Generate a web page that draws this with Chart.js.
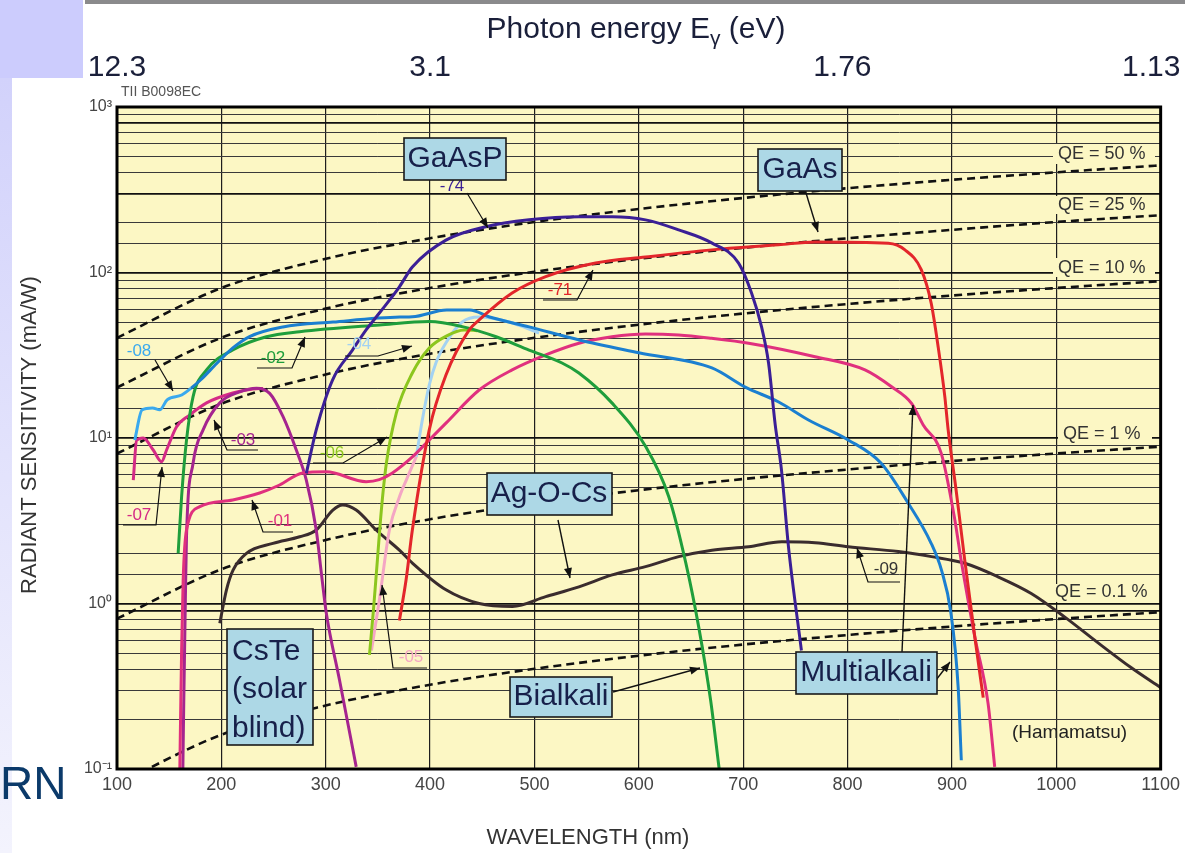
<!DOCTYPE html>
<html><head><meta charset="utf-8">
<script src="https://cdn.jsdelivr.net/npm/chart.js@4.4.0/dist/chart.umd.min.js"></script>
<style>html,body{margin:0;padding:0;background:#fff;overflow:hidden}canvas{display:block}</style>
</head><body>
<canvas id="c" width="1185" height="853" style="width:1185px;height:853px"></canvas>
<script>
const FONT = '"Liberation Sans", Arial, Helvetica, sans-serif';

// ---------- data (wavelength nm, radiant sensitivity mA/W) ----------
const wl08 = [117,124,134,141,148,162,171,180,196,211,227,259,307,371,383,416,438,457,495,543,600,670,702,734,763,801,832,858,880,890,899,906,909];
const s08  = [9.7,14.8,15.2,14.8,17.0,18.2,20.0,22.4,28.4,35,41,46.9,50.2,53.8,54,59.3,59.3,53.8,46.9,39.1,32.7,26.5,20.3,16.5,12.8,9.7,7.06,4.05,2.32,1.59,0.88,0.31,0.113];

const wl02 = [158.6,161.9,166.6,172.9,185.8,210.9,243.1,275,351.4,399.2,430.8,463.3,494.8,526.4,542.6,574.2,606.7,628.7,645,657.4,668.8,677];
const s02  = [2.01,4.42,9.7,17.8,25.8,34,40.9,43.9,48.2,50.5,47.1,40.9,34,28.4,24.7,16.3,8.85,4.42,1.76,0.72,0.26,0.1];

const wl74 = [281.4,290.9,306.5,325.6,338.7,351.4,370.6,383,415.2,453.4,494.8,542.6,574.2,606.4,638.2,669.8,695.6,708,717.6,724.3,730.7,736.7,743.4,755.8];
const s74  = [6.12,11.2,22.4,34,45,56.9,82,108,157,189,208,217,217,208,181,151,114,75.2,46.9,28.4,12,6.4,2.2,0.52];

const wl71 = [370.6,377,383,399.2,415.2,437.5,447,478.6,510.8,558.6,606.4,669.8,733.8,768.9,839,855,870.6,880.1,886.8,893.2,896.4,904,912.3,921.9,930];
const s71  = [0.79,1.39,2.78,11.2,24,45,51.7,75.2,94.4,114,124,137,147,153,150,137,104,65.4,35.6,17.8,11.2,4.85,1.83,0.63,0.27];

const wl01 = [160.2,161.9,163.4,166.6,179.3,210.9,236.7,255.8,277.8,300.5,338.7,351.4,363.9,383.3,399.2,415.2,447,478.6,510.8,542.6,574.2,606.4,638.2,669.8,705.2,768.9,816.7,842.2,861.3,872.5,889.7,902.8,908.8,921.9,934.6,941];
const s01  = [0.1,0.52,1.39,2.78,3.85,4.22,4.65,5.2,6.15,6.25,5.44,5.6,6.15,7.71,9.73,12.3,19.5,25.8,31.8,37.4,40.9,42.5,41.9,40,37.4,31,25.8,20.4,16.2,12,8.1,3.2,1.83,0.63,0.25,0.103];

const wl03 = [163.1,164,165.5,166.6,172.9,182.5,198.5,217.6,233.6,246.3,259,271.8,281.4,290.9,296,300.5,313.2,329.2];
const s03  = [0.1,0.26,1.05,2.53,7.03,11.2,16.3,19,20,18.6,13.5,8.46,5.57,2.78,1.49,0.88,0.345,0.103];

const wl07 = [115.6,118.8,125.1,134.7,142.7,147.5,157.1,169.8,185.8,210.9,230,240];
const s07  = [5.57,9.7,10,8.46,7.19,8.46,11.7,13.8,16.3,18.7,19.8,19.9];

const wl06 = [341.9,345.7,349.5,353.3,358.1,367.7,383,399.2,415.5,432.7,445];
const s06  = [0.49,0.91,1.83,3.67,7.03,14.2,24.7,35,41.3,45,44.5];

const wl04 = [386.8,392.5,399.2,405.9,415.5,430.8,447,475.7,504.4];
const s04  = [7.71,12.8,20.9,28.8,37.9,50.2,53.8,50.2,43.1];

const wl05 = [343.8,351.4,361,370.6,377.2,386.8];
const s05  = [0.52,1.05,2.78,4.4,5.57,7.71];

const wl09 = [198.5,204.9,211.2,224,249.4,275,290.9,306.8,316.3,329.2,348.3,370.6,383.3,415.2,447,478.9,510.8,542.6,574.5,606.4,638.2,670.1,705.2,737,768.9,800.8,848.6,880.4,912.3,944.2,976,1007.9,1039.8,1071.6,1100];
const s09  = [0.76,1.21,1.59,2.01,2.31,2.53,2.78,3.67,3.94,3.67,2.78,2.1,1.75,1.21,1.0,0.96,1.1,1.26,1.49,1.67,1.92,2.1,2.2,2.36,2.33,2.2,2.06,1.92,1.75,1.45,1.15,0.83,0.58,0.41,0.31];

// quantum-efficiency reference lines
const qeWl  = [100,200,300,400,500,600,700,800,900,1000,1100];
const qe50  = [40.3,80.6,121,161,202,242,282,323,363,403,444];
const qe25  = [20.2,40.3,60.5,80.6,101,121,141,161,181,202,222];
const qe10  = [8.06,16.1,24.2,32.3,40.3,48.4,56.5,64.5,72.6,80.6,88.7];
const qe1   = [0.81,1.61,2.42,3.23,4.03,4.84,5.65,6.45,7.26,8.06,8.87];
const qe01  = [0.081,0.161,0.242,0.323,0.403,0.484,0.565,0.645,0.726,0.806,0.887];

// axis labels
const energyTickNm  = [100, 400, 795, 1091];
const energyLabels  = ['12.3', '3.1', '1.76', '1.13'];
const qeLabels      = ['QE = 50 %', 'QE = 25 %', 'QE = 10 %', 'QE = 1 %', 'QE = 0.1 %'];

// ---------- styling / layout ----------
const C = {
  lightBlue:'#3aa9ee', blue:'#1b7fd0', green:'#1f9e3c', purple:'#3b1f96', red:'#e3262b',
  pink:'#e0307e', magenta:'#a5248f', pink07:'#d42a86', yg:'#8cc61e', pale:'#a3d2f2', palePink:'#f4a6c4', dark:'#3a2c2e'
};
const series = (wl, s) => wl.map((x, i) => ({x, y: s[i]}));
const curve = (label, wl, s, color, extra) => Object.assign({
  label, data: series(wl, s), borderColor: color, borderWidth: 3, pointRadius: 0,
  showLine: true, fill: false, cubicInterpolationMode: 'monotone'
}, extra || {});
const qeLine = (label, s) => ({
  label, data: series(qeWl, s), borderColor: '#111', borderWidth: 2.6, borderDash: [8, 5],
  pointRadius: 0, showLine: true, fill: false, cubicInterpolationMode: 'monotone'
});

const qeLabelPos = [[1058,154],[1058,205],[1058,268],[1063,434],[1055,592]];
const qeMasks = [[1053,144,102,20],[1053,196,102,18],[1053,258,102,19],[1058,426,94,17],[1051,584,104,18]];

const smallLabels = [
  {t:'-08', x:139, y:351, c:C.lightBlue, lead:[[155,360],[173,391]]},
  {t:'-02', x:273, y:358, c:C.green,     lead:[[257,368],[292,368],[305,337]]},
  {t:'-04', x:359, y:344, c:C.pale,      lead:[[345,356],[378,356],[412,346]]},
  {t:'-03', x:243, y:440, c:C.magenta,   lead:[[258,450],[227,450],[214,420]]},
  {t:'-06', x:332, y:453, c:C.yg,        lead:[[313,463],[343,463],[387,437]]},
  {t:'-07', x:139, y:515, c:C.pink07,    lead:[[123,525],[156,525],[162,467]]},
  {t:'-01', x:280, y:521, c:C.pink,      lead:[[293,532],[263,532],[252,500]]},
  {t:'-05', x:411, y:657, c:C.palePink,  lead:[[427,668],[393,668],[382,585]]},
  {t:'-74', x:452, y:186, c:C.purple,    lead:[[467,193],[488,228]]},
  {t:'-71', x:560, y:290, c:C.red,       lead:[[543,300],[577,300],[593,270]]},
  {t:'-09', x:886, y:569, c:'#333',      lead:[[900,582],[868,582],[857,548]]}
];
const boxArrows = [
  [[806,193],[818,232]], [[558,520],[570,578]], [[613,692],[700,668]],
  [[902,652],[913,405]], [[936,680],[950,662]]
];
const boxes = [
  {r:[404,138,102,42], lines:['GaAsP'], cx:455, cy:[159]},
  {r:[758,149,84,42],  lines:['GaAs'], cx:800, cy:[170]},
  {r:[487,473,125,42], lines:['Ag-O-Cs'], cx:549, cy:[494]},
  {r:[227,629,86,116], lines:['CsTe','(solar','blind)'], lx:232, cy:[652,690,729]},
  {r:[510,677,102,40], lines:['Bialkali'], cx:561, cy:[697]},
  {r:[796,652,141,42], lines:['Multialkali'], cx:866, cy:[673]}
];

function poly(ctx, pts, head) {
  ctx.beginPath();
  ctx.moveTo(pts[0][0], pts[0][1]);
  for (let i = 1; i < pts.length; i++) ctx.lineTo(pts[i][0], pts[i][1]);
  ctx.stroke();
  if (head) {
    const [x1, y1] = pts[pts.length - 2], [x2, y2] = pts[pts.length - 1];
    const a = Math.atan2(y2 - y1, x2 - x1), L = 10, W = 4;
    ctx.beginPath();
    ctx.moveTo(x2, y2);
    ctx.lineTo(x2 - L * Math.cos(a) + W * Math.sin(a), y2 - L * Math.sin(a) - W * Math.cos(a));
    ctx.lineTo(x2 - L * Math.cos(a) - W * Math.sin(a), y2 - L * Math.sin(a) + W * Math.cos(a));
    ctx.closePath();
    ctx.fill();
  }
}

const decorPlugin = {
  id: 'decor',
  beforeDraw(chart) {
    const ctx = chart.ctx, a = chart.chartArea;
    ctx.save();
    ctx.fillStyle = '#fff'; ctx.fillRect(0, 0, chart.width, chart.height);
    ctx.fillStyle = '#ccccfd'; ctx.fillRect(0, 0, 83, 78);
    const g = ctx.createLinearGradient(0, 78, 0, 853);
    g.addColorStop(0, '#d2d2fb'); g.addColorStop(1, '#f3f3fd');
    ctx.fillStyle = g; ctx.fillRect(0, 78, 12, 775);
    ctx.fillStyle = '#8a8a8c'; ctx.fillRect(85, 0, 1100, 4);
    ctx.fillStyle = '#fcf7c4'; ctx.fillRect(a.left, a.top, a.right - a.left, a.bottom - a.top);
    ctx.restore();
  },
  beforeDatasetsDraw(chart) {
    const ctx = chart.ctx;
    ctx.save();
    ctx.fillStyle = '#fcf7c4';
    qeMasks.forEach(m => ctx.fillRect(m[0], m[1], m[2], m[3]));
    ctx.restore();
  },
  afterDatasetsDraw(chart) {
    const ctx = chart.ctx, a = chart.chartArea;
    ctx.save();
    ctx.strokeStyle = '#000'; ctx.lineWidth = 3;
    ctx.strokeRect(a.left, a.top, a.right - a.left, a.bottom - a.top);

    ctx.fillStyle = '#333'; ctx.font = '18px ' + FONT; ctx.textBaseline = 'middle'; ctx.textAlign = 'left';
    qeLabels.forEach((t, i) => ctx.fillText(t, qeLabelPos[i][0], qeLabelPos[i][1]));

    ctx.strokeStyle = '#111'; ctx.fillStyle = '#111'; ctx.lineWidth = 1.2;
    smallLabels.forEach(l => poly(ctx, l.lead, true));
    ctx.font = '17px ' + FONT; ctx.textAlign = 'center'; ctx.textBaseline = 'middle';
    smallLabels.forEach(l => { ctx.fillStyle = l.c; ctx.fillText(l.t, l.x, l.y); });

    ctx.strokeStyle = '#111'; ctx.fillStyle = '#111'; ctx.lineWidth = 1.4;
    boxArrows.forEach(p => poly(ctx, p, true));

    boxes.forEach(b => {
      ctx.fillStyle = '#add8e6'; ctx.fillRect(b.r[0], b.r[1], b.r[2], b.r[3]);
      ctx.strokeStyle = '#1a1a1a'; ctx.lineWidth = 1.6; ctx.strokeRect(b.r[0], b.r[1], b.r[2], b.r[3]);
      ctx.fillStyle = '#17204a'; ctx.font = '30px ' + FONT; ctx.textBaseline = 'middle';
      b.lines.forEach((t, i) => {
        if (b.lx !== undefined) { ctx.textAlign = 'left'; ctx.fillText(t, b.lx, b.cy[i]); }
        else { ctx.textAlign = 'center'; ctx.fillText(t, b.cx, b.cy[i]); }
      });
    });

    ctx.fillStyle = '#222'; ctx.font = '19px ' + FONT; ctx.textAlign = 'left'; ctx.textBaseline = 'middle';
    ctx.fillText('(Hamamatsu)', 1012, 733);
    ctx.restore();
  },
  afterDraw(chart) {
    const ctx = chart.ctx, xs = chart.scales.x;
    ctx.save();
    ctx.fillStyle = '#1a1f3a'; ctx.font = '30px ' + FONT; ctx.textAlign = 'center'; ctx.textBaseline = 'alphabetic';
    energyTickNm.forEach((v, i) => ctx.fillText(energyLabels[i], xs.getPixelForValue(v), 76));
    const f1 = '30px ' + FONT, f2 = '21px ' + FONT;
    const p1 = 'Photon energy E', p2 = '\u03b3', p3 = ' (eV)';
    ctx.font = f1; const w1 = ctx.measureText(p1).width, w3 = ctx.measureText(p3).width;
    ctx.font = f2; const w2 = ctx.measureText(p2).width;
    let x0 = 636 - (w1 + w2 + w3) / 2;
    ctx.textAlign = 'left';
    ctx.font = f1; ctx.fillText(p1, x0, 38);
    ctx.font = f2; ctx.fillText(p2, x0 + w1, 45);
    ctx.font = f1; ctx.fillText(p3, x0 + w1 + w2, 38);
    ctx.fillStyle = '#555'; ctx.font = '14px ' + FONT; ctx.fillText('TII B0098EC', 121, 96);
    ctx.fillStyle = '#333'; ctx.font = '22px ' + FONT; ctx.textAlign = 'center'; ctx.textBaseline = 'middle';
    ctx.fillText('WAVELENGTH (nm)', 588, 838);
    ctx.save(); ctx.translate(30, 435); ctx.rotate(-Math.PI / 2);
    ctx.fillText('RADIANT SENSITIVITY (mA/W)', 0, 0); ctx.restore();
    ctx.fillStyle = '#0b3a6a'; ctx.font = '46px ' + FONT; ctx.textAlign = 'left'; ctx.textBaseline = 'alphabetic';
    ctx.fillText('RN', 0, 799);
    ctx.restore();
  }
};

const SUP = {'-1':'\u207b\u00b9', '0':'\u2070', '1':'\u00b9', '2':'\u00b2', '3':'\u00b3'};
const isNear = (v, t) => Math.abs(v - t) < 1e-6 * Math.max(1, t);
const heavy = v => { const l = Math.log10(v); return Math.abs(l - Math.round(l)) < 1e-6 || isNear(v,300) || isNear(v,800) || isNear(v,0.9); };

new Chart(document.getElementById('c'), {
  type: 'scatter',
  data: {
    datasets: [
      curve('-74', wl74, s74, C.purple),
      curve('-71', wl71, s71, C.red),
      curve('-08', wl08, s08, C.blue, {segment: {borderColor: ctx => ctx.p1DataIndex <= 6 ? C.lightBlue : C.blue}}),
      curve('-02', wl02, s02, C.green),
      curve('-01', wl01, s01, C.pink),
      curve('-03', wl03, s03, C.magenta),
      curve('-07', wl07, s07, C.pink07),
      curve('-06', wl06, s06, C.yg),
      curve('-04', wl04, s04, C.pale),
      curve('-05', wl05, s05, C.palePink),
      curve('-09', wl09, s09, C.dark),
      qeLine('QE 50%', qe50), qeLine('QE 25%', qe25), qeLine('QE 10%', qe10),
      qeLine('QE 1%', qe1), qeLine('QE 0.1%', qe01)
    ]
  },
  options: {
    responsive: false, animation: false, devicePixelRatio: 1, events: [],
    layout: {padding: {top: 107, right: 22, left: 0, bottom: 0}},
    plugins: {legend: {display: false}, tooltip: {enabled: false}},
    scales: {
      x: {
        type: 'linear', min: 100, max: 1100,
        afterFit: s => { s.height = 84; },
        ticks: {stepSize: 100, color: '#444', font: {size: 18, family: FONT}, padding: 5, maxRotation: 0, autoSkip: false,
                callback: v => String(v)},
        grid: {color: '#1e1e1e', lineWidth: 1.2, drawTicks: false},
        border: {display: false}
      },
      y: {
        type: 'logarithmic', min: 0.1, max: 1000,
        afterFit: s => { s.width = 117; },
        ticks: {
          autoSkip: false, color: '#444', font: {size: 16, family: FONT}, padding: 5,
          callback: v => { const l = Math.log10(v), r = Math.round(l); return Math.abs(l - r) < 1e-6 ? '10' + SUP[String(r)] : ''; }
        },
        grid: {
          drawTicks: false,
          color: c => (c.tick && heavy(c.tick.value)) ? '#111' : '#3a3a3a',
          lineWidth: c => (c.tick && heavy(c.tick.value)) ? 1.7 : 1
        },
        border: {display: false}
      }
    }
  },
  plugins: [decorPlugin]
});
</script>
</body></html>
